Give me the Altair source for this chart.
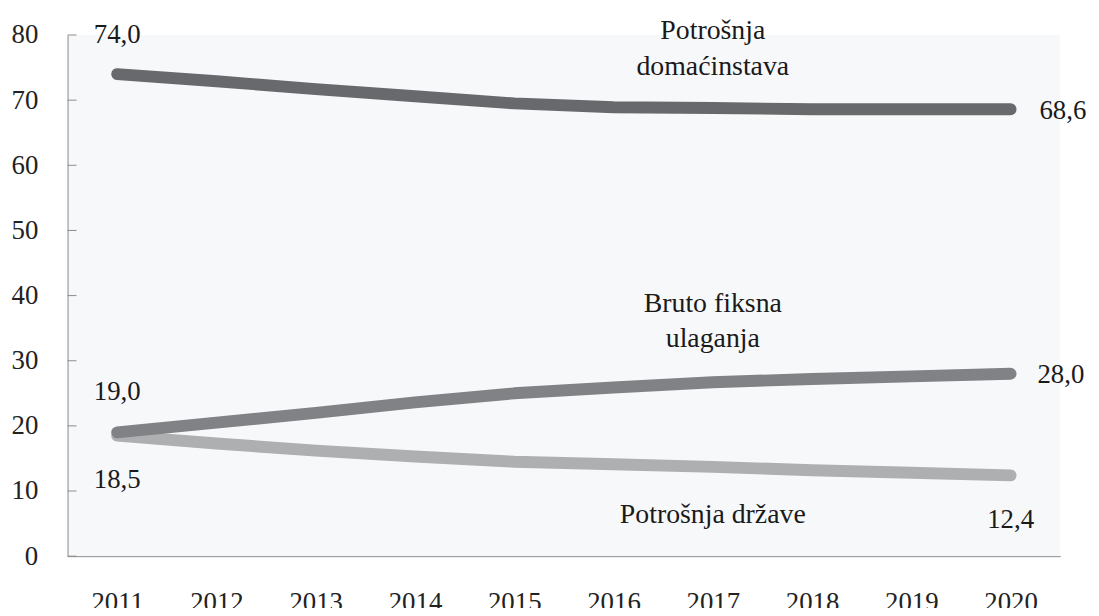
import altair as alt
import pandas as pd

years = [2011, 2012, 2013, 2014, 2015, 2016, 2017, 2018, 2019, 2020]
domacinstava = [74.0, 72.9, 71.7, 70.6, 69.5, 68.9, 68.8, 68.6, 68.6, 68.6]
bruto = [19.0, 20.5, 22.0, 23.6, 25.0, 25.9, 26.7, 27.2, 27.6, 28.0]
drzave = [18.5, 17.3, 16.2, 15.3, 14.5, 14.1, 13.7, 13.2, 12.8, 12.4]
series_names = ["Potrošnja domaćinstava", "Bruto fiksna ulaganja", "Potrošnja države"]
y_ticks = [0, 10, 20, 30, 40, 50, 60, 70, 80]

rows = []
for name, vals in zip(series_names, [domacinstava, bruto, drzave]):
    for y, v in zip(years, vals):
        rows.append({"year": y, "value": v, "series": name,
                     "label": f"{v:.1f}".replace(".", ",")})
df = pd.DataFrame(rows)

FONT = "Liberation Serif"
FS = 27
colors = {"Potrošnja domaćinstava": "#68696d",
          "Bruto fiksna ulaganja": "#818286",
          "Potrošnja države": "#adafb1"}

xscale = alt.Scale(type="point", padding=0.5, domain=years)
yscale = alt.Scale(domain=[0, 80], nice=False)
xaxis = alt.Axis(title=None, labelAngle=0, labelPadding=34, ticks=False, tickSize=0,
                 domainColor="#8c8c8c", labelFont=FONT, labelFontSize=FS,
                 labelColor="#222222", grid=False)
yaxis = alt.Axis(title=None, values=y_ticks, labelPadding=30, ticks=False, tickSize=0,
                 domainColor="#8c8c8c", grid=False, labelFont=FONT, labelFontSize=FS,
                 labelColor="#222222")
xenc = alt.X("year:O", scale=xscale, axis=xaxis)
yenc = alt.Y("value:Q", scale=yscale, axis=yaxis)

base = alt.Chart(df)

ticks = alt.Chart(pd.DataFrame({"value": y_ticks})).mark_rule(color="#8c8c8c", strokeWidth=1).encode(
    y=alt.Y("value:Q", scale=yscale, axis=yaxis), x=alt.value(0), x2=alt.value(9))

lines = []
for name in ["Potrošnja države", "Bruto fiksna ulaganja", "Potrošnja domaćinstava"]:
    lines.append(
        base.transform_filter(alt.datum.series == name)
        .mark_line(strokeWidth=12, strokeCap="round", strokeJoin="round", color=colors[name])
        .encode(x=xenc, y=yenc)
    )

def vlabel(series, year, dx, dy, align):
    return (base.transform_filter((alt.datum.series == series) & (alt.datum.year == year))
            .mark_text(font=FONT, fontSize=FS, color="#1a1a1a", dx=dx, dy=dy, align=align,
                       baseline="middle")
            .encode(x=xenc, y=yenc, text="label:N"))

vlabels = [
    vlabel("Potrošnja domaćinstava", 2011, 0, -39, "center"),
    vlabel("Potrošnja domaćinstava", 2020, 29, 2, "left"),
    vlabel("Bruto fiksna ulaganja", 2011, 0, -41, "center"),
    vlabel("Bruto fiksna ulaganja", 2020, 27, 1, "left"),
    vlabel("Potrošnja države", 2011, 0, 45, "center"),
    vlabel("Potrošnja države", 2020, 0, 45, "center"),
]

one = pd.DataFrame({"k": [0]})

def slabel(lines_txt, xval, yval):
    return alt.Chart(one).mark_text(font=FONT, fontSize=28, color="#1a1a1a", align="center",
                                    baseline="middle", lineHeight=36).encode(
        x=alt.X(datum=xval, type="ordinal", scale=xscale, axis=xaxis),
        y=alt.Y(datum=yval, type="quantitative", scale=yscale, axis=yaxis),
        text=alt.value(lines_txt))

slabels = [
    slabel(["Potrošnja", "domaćinstava"], 2017, 80.6),
    slabel(["Bruto fiksna", "ulaganja"], 2017, 38.75),
    slabel("Potrošnja države", 2017, 6.3),
]

chart = alt.layer(ticks, *lines, *vlabels, *slabels).resolve_scale(x="shared", y="shared").properties(
    width=1000, height=525,
    padding={"left": 60, "top": 25, "right": 31, "bottom": 50},
    autosize=alt.AutoSizeParams(type="none"),
    background="white",
).configure_view(fill="#f7f8fa", stroke=None)

chart.save("out.html", embed_options={"renderer": "svg", "actions": False})
